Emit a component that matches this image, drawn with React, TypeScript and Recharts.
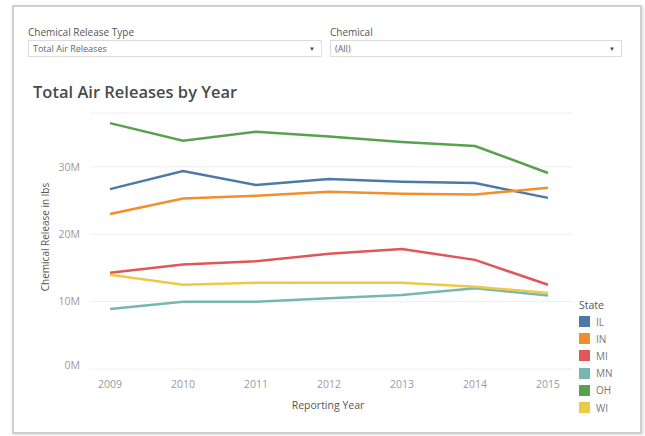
import React from "react";
import { LineChart, Line, XAxis, YAxis, CartesianGrid } from "recharts";

const years = ["2009", "2010", "2011", "2012", "2013", "2014", "2015"];
const states = ["IL", "IN", "MI", "MN", "OH", "WI"];
const colors = ["#4e79a7", "#f28e2b", "#e15759", "#76b7b2", "#59a14f", "#edc948"];
const IL = [26.7, 29.4, 27.3, 28.2, 27.8, 27.6, 25.4];
const IN = [23.0, 25.3, 25.7, 26.3, 26.0, 25.9, 26.9];
const MI = [14.3, 15.5, 16.0, 17.1, 17.8, 16.2, 12.5];
const MN = [8.9, 10.0, 10.0, 10.5, 11.0, 12.0, 10.9];
const OH = [36.5, 33.9, 35.2, 34.5, 33.7, 33.1, 29.1];
const WI = [14.0, 12.5, 12.8, 12.8, 12.8, 12.2, 11.3];
const yTicks = [0, 10, 20, 30];

const seriesValues = [IL, IN, MI, MN, OH, WI];
const data = years.map((y, i) => {
  const row: any = { year: y };
  states.forEach((s, k) => {
    row[s] = seriesValues[k][i];
  });
  return row;
});

const FONT = "'Open Sans', 'Noto Sans', sans-serif";

const YTick = (props: any) => {
  const { x, y, payload } = props;
  const dy = payload.value === 0 ? -4 : 0;
  return (
    <text x={x} y={y + dy} dy="0.35em" textAnchor="end" fill="#9a9a9a" fontSize={10.5} fontFamily={FONT}>
      {payload.value + "M"}
    </text>
  );
};

const Dropdown = ({ left, width, label, value }: any) => (
  <div style={{ position: "absolute", left, top: 24, width }}>
    <div style={{ fontSize: 10, color: "#555", fontFamily: FONT, height: 16, lineHeight: "16px" }}>{label}</div>
    <div
      style={{
        position: "relative",
        height: 17,
        border: "1px solid #dcdcdc",
        background: "#fff",
        fontSize: 9,
        color: "#666",
        fontFamily: FONT,
        lineHeight: "16px",
        paddingLeft: 4,
        boxSizing: "border-box",
      }}
    >
      {value}
      <span style={{ position: "absolute", right: 6, top: 0, fontSize: 6, color: "#444" }}>▼</span>
    </div>
  </div>
);

export default function App() {
  return (
    <div style={{ position: "absolute", left: 0, top: 0, width: 645, height: 436, background: "#fff", overflow: "hidden" }}>
      <div
        style={{
          position: "absolute",
          left: 12,
          top: 5,
          width: 630,
          height: 429,
          border: "2px solid #cfcfcf",
          boxSizing: "border-box",
          boxShadow: "1px 1px 3px rgba(0,0,0,0.15)",
        }}
      />
      <Dropdown left={28} width={294} label="Chemical Release Type" value="Total Air Releases" />
      <Dropdown left={330} width={292} label="Chemical" value="(All)" />
      <div
        style={{
          position: "absolute",
          left: 33,
          top: 80,
          fontSize: 16.5,
          fontWeight: 600,
          color: "#4a4a4a",
          fontFamily: FONT,
          whiteSpace: "nowrap",
        }}
      >
        Total Air Releases by Year
      </div>
      <div style={{ position: "absolute", left: 0, top: 0 }}>
        <LineChart width={645} height={436} data={data} margin={{ top: 113, right: 72, bottom: 37, left: 0 }}>
          <CartesianGrid horizontal={true} vertical={false} stroke="#efefef" />
          <XAxis
            dataKey="year"
            padding={{ left: 20, right: 25 }}
            axisLine={false}
            tickLine={false}
            tickMargin={6}
            height={30}
            tick={{ fill: "#9a9a9a", fontSize: 10.5, fontFamily: FONT }}
            interval={0}
          />
          <YAxis
            width={90}
            domain={[0, 38]}
            ticks={yTicks}
            axisLine={false}
            tickLine={false}
            tick={<YTick />}
            tickMargin={4}
          />
          {states.map((s, k) => (
            <Line
              key={s}
              dataKey={s}
              stroke={colors[k]}
              strokeWidth={2.5}
              dot={false}
              activeDot={false}
              isAnimationActive={false}
              type="linear"
            />
          ))}
        </LineChart>
      </div>
      <div
        style={{
          position: "absolute",
          left: 45,
          top: 237,
          transform: "translate(-50%, -50%) rotate(-90deg)",
          fontSize: 10,
          color: "#555",
          fontFamily: FONT,
          whiteSpace: "nowrap",
        }}
      >
        Chemical Release in lbs
      </div>
      <div
        style={{
          position: "absolute",
          left: 328,
          top: 405,
          transform: "translate(-50%, -50%)",
          fontSize: 10.5,
          color: "#555",
          fontFamily: FONT,
          whiteSpace: "nowrap",
        }}
      >
        Reporting Year
      </div>
      <div style={{ position: "absolute", left: 579, top: 297, fontFamily: FONT }}>
        <div style={{ fontSize: 10.5, color: "#555", height: 16, lineHeight: "16px" }}>State</div>
        {states.map((s, k) => (
          <div key={s} style={{ display: "flex", alignItems: "center", height: 17.2 }}>
            <div style={{ width: 11, height: 11, background: colors[k], marginRight: 6 }} />
            <span style={{ fontSize: 10, color: "#777" }}>{s}</span>
          </div>
        ))}
      </div>
    </div>
  );
}
